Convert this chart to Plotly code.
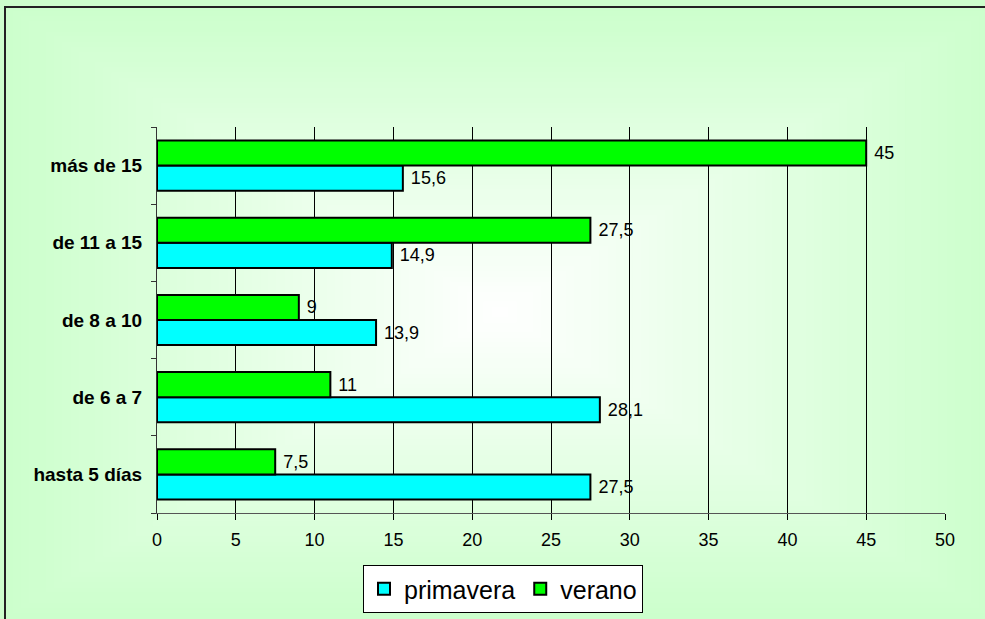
import plotly.graph_objects as go

categories = ["hasta 5 días", "de 6 a 7", "de 8 a 10", "de 11 a 15", "más de 15"]
primavera = [27.5, 28.1, 13.9, 14.9, 15.6]
verano = [7.5, 11, 9, 27.5, 45]
x_ticks = [0, 5, 10, 15, 20, 25, 30, 35, 40, 45, 50]

W, H = 985, 619
L, R, T, B = 157, 40, 127, 106
PW, PH = W - L - R, H - T - B
FONT = "Liberation Sans, Arial, sans-serif"


def px_to_paper(px, py):
    return (px - L) / PW, (H - B - py) / PH


def fmt(v):
    return "\u00a0" + f"{v:g}".replace(".", ",")


fig = go.Figure()
fig.add_trace(go.Bar(
    y=categories, x=primavera, orientation="h", name="primavera",
    marker=dict(color="#00FFFF", line=dict(color="#000000", width=2)),
    text=[fmt(v) for v in primavera], textposition="outside",
    textfont=dict(family=FONT, size=18, color="#000"), constraintext="none",
    cliponaxis=False,
))
fig.add_trace(go.Bar(
    y=categories, x=verano, orientation="h", name="verano",
    marker=dict(color="#00FF00", line=dict(color="#000000", width=2)),
    text=[fmt(v) for v in verano], textposition="outside",
    textfont=dict(family=FONT, size=18, color="#000"), constraintext="none",
    cliponaxis=False,
))

# background rectangular gradient (white centre -> light green edges)
shapes = []
cx, cy, hw, hh = 500, 312, 496, 306
N = 60
for i in range(N):
    t = 1 - i / N
    r = round(255 + (204 - 255) * t)
    col = f"rgb({r},255,{r})"
    x0, y0 = px_to_paper(cx - hw * t, cy + hh * t)
    x1, y1 = px_to_paper(cx + hw * t, cy - hh * t)
    shapes.append(dict(type="rect", xref="paper", yref="paper", x0=x0, y0=y0, x1=x1, y1=y1,
                       fillcolor=col, line=dict(width=0), layer="below"))
bx0, by0 = px_to_paper(5, 700)
bx1, by1 = px_to_paper(1100, 7)
shapes.append(dict(type="rect", xref="paper", yref="paper", x0=bx0, y0=by0, x1=bx1, y1=by1,
                   fillcolor="rgba(0,0,0,0)", line=dict(color="#222", width=2), layer="below"))

lx, ly = px_to_paper(503, 589)

fig.update_layout(
    width=W, height=H,
    margin=dict(l=L, r=R, t=T, b=B, autoexpand=False),
    paper_bgcolor="#CCFFCC", plot_bgcolor="rgba(0,0,0,0)",
    barmode="group", bargap=0.35, bargroupgap=0,
    font=dict(family=FONT, color="#000"),
    shapes=shapes,
    showlegend=True,
    legend=dict(orientation="h", x=lx, y=ly, xanchor="center", yanchor="middle",
                bgcolor="#FFFFFF", bordercolor="#000", borderwidth=1,
                font=dict(family=FONT, size=25, color="#000"), traceorder="normal"),
    xaxis=dict(range=[0, 50], tickvals=x_ticks, ticktext=[str(v) for v in x_ticks],
               showgrid=True, gridcolor="#000", gridwidth=1, zeroline=False,
               showline=True, linecolor="#555", linewidth=1,
               ticks="outside", ticklen=6, tickcolor="#000", ticklabelstandoff=4,
               tickfont=dict(family=FONT, size=18, color="#000")),
    yaxis=dict(type="category", categoryorder="array", categoryarray=categories,
               showgrid=False, zeroline=False, showline=True, linecolor="#333", linewidth=1,
               ticks="outside", ticklen=5, tickson="boundaries", tickcolor="#333",
               ticklabelstandoff=10,
               tickfont=dict(family=FONT, size=19, color="#000", weight="bold")),
)

fig.write_html("out.html", config={"displayModeBar": False},
               post_script="document.body.style.margin='0';document.body.style.overflow='hidden';")
